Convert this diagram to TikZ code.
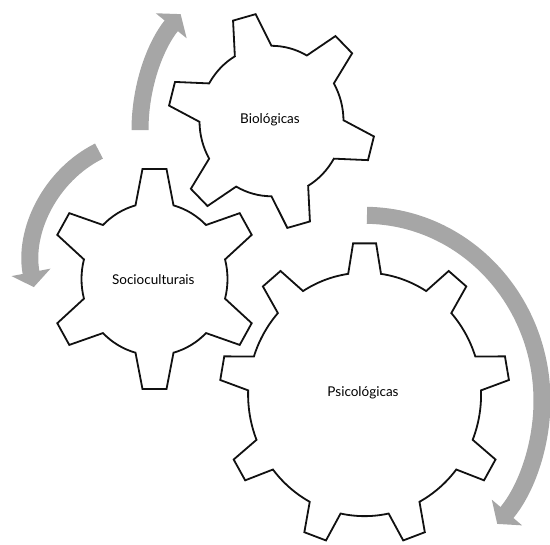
\documentclass[tikz,border=0pt]{standalone}
\usepackage{fontspec}
\setmainfont{Lato}
\usetikzlibrary{arrows.meta,calc}
\definecolor{arrowgray}{HTML}{A6A6A6}
\definecolor{gearink}{HTML}{111111}
\tikzset{
  gearline/.style={draw=gearink, line width=1.8pt, fill=white, line join=miter},
  flowarrow/.style={draw=arrowgray, line width=17pt, -{Triangle[width=39pt,length=15pt]}},
  gearlabel/.style={font=\fontsize{13.5}{16}\selectfont, text=black, inner sep=0pt}
}
% #1 cx, #2 cy, #3 teeth, #4 outer r, #5 root r, #6 tip half-angle, #7 base half-angle, #8 offset
\newcommand\drawgear[8]{%
  \pgfmathtruncatemacro\glast{#3-1}%
  \pgfmathsetmacro\gstep{360/#3}%
  \begin{scope}[shift={(#1,#2)}]
    \draw[gearline] ({#8-#7}:#5)
      \foreach \k in {0,...,\glast}{
        -- ({#8+\k*\gstep-#6}:#4) -- ({#8+\k*\gstep+#6}:#4) -- ({#8+\k*\gstep+#7}:#5)
        arc[start angle={#8+\k*\gstep+#7}, end angle={#8+(\k+1)*\gstep-#7}, radius=#5]
      } -- cycle;
  \end{scope}}
\begin{document}
\begin{tikzpicture}[x=1pt, y=1.045pt]
\useasboundingbox (0,0) rectangle (550,521.53);
% arrows
\coordinate (a1s) at ($(312,397)+(180:172)$);
\coordinate (a2s) at ($(150,270)+(115.5:118.5)$);
\coordinate (a3s) at ($(364.5,138)+(89.2:177.5)$);
\draw[flowarrow] (a1s) arc[start angle=180, end angle=139.8, radius=172];
\draw[flowarrow] (a2s) arc[start angle=115.5, end angle=191.3, radius=118.5];
\draw[flowarrow] (a3s) arc[start angle=89.2, end angle=-41.6, radius=177.5];
% gears
\drawgear{271.5}{405.7}{6}{103.5}{72}{6.5}{15.3}{105.3}
\drawgear{154.5}{254.5}{6}{106}{73}{6.5}{15.1}{90}
\drawgear{364.6}{144.1}{9}{145}{116.5}{4.55}{8.1}{90}
% labels
\node[gearlabel] (bio) at (270,406.7) {Biológicas};
\node[gearlabel] (socio) at (153.3,254.3) {Socioculturais};
\node[gearlabel] (psico) at (363,145.5) {Psicológicas};
\end{tikzpicture}
\end{document}
